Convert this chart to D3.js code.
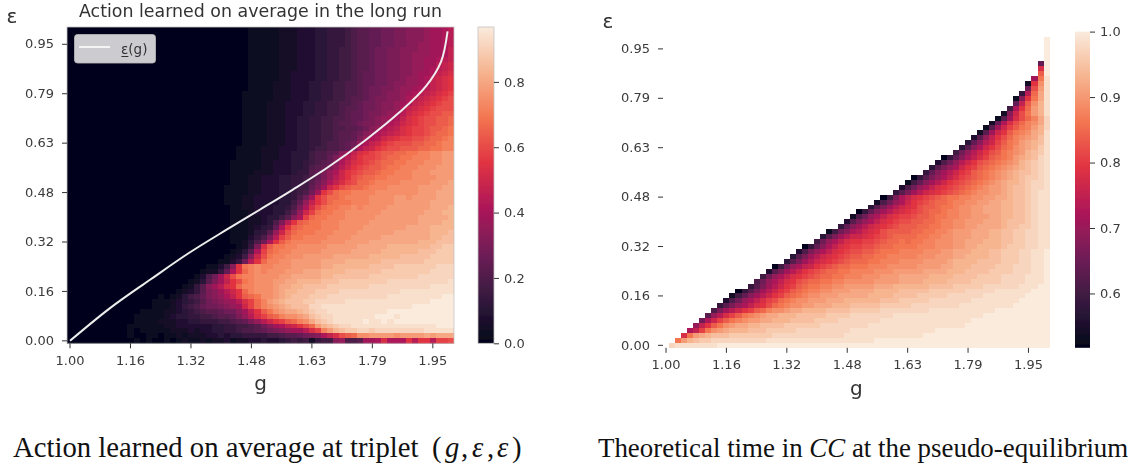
<!DOCTYPE html>
<html>
<head>
<meta charset="utf-8">
<script src="https://cdn.jsdelivr.net/npm/d3@7"></script>
<style>
html, body { margin: 0; padding: 0; background: #fff; }
svg { display: block; }
text { font-family: "DejaVu Sans", sans-serif; fill: #333; }
.tick text { font-size: 13px; fill: #3b3b3b; }
.tick line { stroke: #333; }
.caption tspan { font-family: "Liberation Serif", serif; fill: #111; }
</style>
</head>
<body>
<div id="container-svg"></div>
<script>
// ************************* VALUES *************************
var g_labels = ["1.00", "1.16", "1.32", "1.48", "1.63", "1.79", "1.95"];
var g_tick_cols = [0, 10, 20, 30, 40, 50, 60];
var eps_labels = ["0.95", "0.79", "0.63", "0.48", "0.32", "0.16", "0.00"];
var eps_tick_rows = [3, 13, 23, 33, 43, 53, 63];

var left_bar_ticks = [0, 0.2, 0.4, 0.6, 0.8];
var right_bar_ticks = [0.6, 0.7, 0.8, 0.9, 1.0];
var left_range = [0, 0.968];
var right_range = [0.517, 1];

// the white curve
var curve_g = [1.000, 1.105, 1.210, 1.312, 1.411, 1.498, 1.584, 1.675, 1.777, 1.864, 1.934, 1.974, 1.991];
var curve_eps = [0.000, 0.105, 0.196, 0.282, 0.357, 0.421, 0.485, 0.556, 0.646, 0.733, 0.817, 0.897, 0.994];

// one char per cell, base 36 level (0 = range low, z = range high), "." = no cell
// first row is the top one, groups of 8 columns
var action_rows = [
"00000000 00000000 00000000 00000011 11122233 34455567 8899aabb cccdeefg",
"00000000 00000000 00000000 00000011 11122233 34455567 8899aabb cccdeefg",
"00000000 00000000 00000000 00000011 11122233 34455567 8899aabb cccdeefg",
"00000000 00000000 00000000 00000011 11122233 34455567 8899aabb ccddeefg",
"00000000 00000000 00000000 00000011 11122233 34455667 889aabbc ccddeefh",
"00000000 00000000 00000000 00000011 11122233 34455667 889aabbc cdddeefh",
"00000000 00000000 00000000 00000011 11122233 34455667 889aabbc cddeefgh",
"00000000 00000000 00000000 00000011 11122233 34455667 889aabbc cddeeghi",
"00000000 00000000 00000000 00000011 11122233 34455667 889aabbc cddefghi",
"00000000 00000000 00000000 00000011 11122333 34455667 899aabbc cdeefhij",
"00000000 00000000 00000000 00000011 11122333 34455667 899aabbc ddefhijk",
"00000000 00000000 00000000 00000011 11222333 44556677 899aabcc ddefhijk",
"00000000 00000000 00000000 00000011 11222333 44556677 89aabbcd defghijk",
"00000000 00000000 00000000 00000111 11222333 44556677 89aabccd efghijkl",
"00000000 00000000 00000000 00000111 11222333 44556678 89abbccd fghijklm",
"00000000 00000000 00000000 00000111 12223334 45566778 9aabccde fhijklmm",
"00000000 00000000 00000000 00000111 12223334 45566788 9aabccdf hijklmmm",
"00000000 00000000 00000000 00000111 12223334 45566789 9abbcdeg ijklmmnn",
"00000000 00000000 00000000 00000111 12223344 55667789 9abcdefh jklmmnno",
"00000000 00000000 00000000 00000111 12223344 55667889 abbcdfgi jklmmnno",
"00000000 00000000 00000000 00000111 12223344 55667788 9acdfghj kllmnnop",
"00000000 00000000 00000000 00000111 12223344 55667889 acdfghij kllmnoop",
"00000000 00000000 00000000 00000111 12223344 55667889 bdfgijkl lmmnoopq",
"00000000 00000000 00000000 00000111 12223344 5567789a dfhiklmm mnnoopqq",
"00000000 00000000 00000000 00001111 22233344 5667789b fhiklmmn nnooppqq",
"00000000 00000000 00000000 00001111 22233444 67789ceh jklmnnoo ppqqrrss",
"00000000 00000000 00000000 00001111 22233444 6779begi kllmnoop pqqqrrss",
"00000000 00000000 00000000 00011111 22333445 6789cfhj klmnoopp qqqrrrss",
"00000000 00000000 00000000 00011111 22333445 789bdgik lmnnoppq qqrrrsss",
"00000000 00000000 00000000 00011112 22333455 89bdfikl mnnoppqq qrrrssss",
"00000000 00000000 00000000 00011122 33344556 79bdgikm nooppqqq qrrrrsss",
"00000000 00000000 00000000 00011122 33344556 8acfhjlm oopqqqqr rrrrssst",
"00000000 00000000 00000000 00111122 33344566 9beikmno opqqqrrr rrsssstt",
"00000000 00000000 00000000 00111122 33344567 aekmoppq qqqrrrrr rrsssttt",
"00000000 00000000 00000000 00111223 3334457a ekmoopqq qqrrrrss rssssttt",
"00000000 00000000 00000000 00111223 3334469d hkmopppq qqrrrrss sssstttt",
"00000000 00000000 00000000 00011223 334457bf jmoppqqr qrrrrsss sssstttu",
"00000000 00000000 00000000 00011123 334469di loppqqrr rrrrssss ssstttuu",
"00000000 00000000 00000000 00011122 34468cfl oppqqqrr rrrsssss sstttttu",
"00000000 00000000 00000000 00011122 347bgkno ppqqqrrr rrssssss ssttttuu",
"00000000 00000000 00000000 00011123 459fknop ppqqqrrr rsssssss ttttuuuu",
"00000000 00000000 00000000 00011124 58dimopp pqqqrrrr sssssstt ttttuuuv",
"00000000 00000000 00000000 00011135 7bglnppq qqqrrrrs sssstttt ttttuuvv",
"00000000 00000000 00000000 00011247 afknpqqq qqrrrrss sstttttt ttuuuvvv",
"00000000 00000000 00000000 0000125b jnppqqrr rrrsssss tttttuuu uuuuvvww",
"00000000 00000000 00000000 0001248f lopqqrrr rrssssst ttttuuuu uuvvvwww",
"00000000 00000000 00000000 001236ci mpqqrrrs sssstttt ttuuuuuv vvvvwwww",
"00000000 00000000 00000000 01135agk oqqrrsss ssttttuu uuuuvvvv vvvwwwww",
"00000000 00000000 00000001 136ckpqr qqrrrsss ssttuuuu uuvvvvww wwwwwxxx",
"00000000 00000000 00000012 259fkoqr qrrrssst ttuuuuvv vvvvwwww wwwwxxxx",
"00000000 00000000 00000137 aeimpqqr rrrssttt ttuuvvvv vvwwwwww wwxxxxxx",
"00000000 00000000 00001248 behkmpqr rrssttuu uuvvvwww wwwwwxxx xxxxxxxy",
"00000000 00000000 0001258c egjkoqqr rrsttuuv vvvwwwww wwxxxxxx xxxxyyyy",
"00000000 00000000 0012358b cegikoqr rrstuuvv vwwwwxxx xxxxxxxy yyyyyyyy",
"00000000 00000001 0124679b cdfhknop rrstuvvv wwwxxxxx xxxxxyyy yyyyyyzz",
"00000000 00000011 1234568a bcdegjlo qstuvvvw wxxxxxyy yyyyyyyy yyyyzzzz",
"00000000 00000011 1235679a abcdeilo qrstuvvv xxyyyyyy yyyyyyyy yzzzzzzz",
"00000000 00001111 22345678 89aacehk nprsttuv wxxyyyyy yyyyyzzz zzzzzzzz",
"00000000 00011111 23445566 7889bdgj lnoqrrst vwxxyyyy yyyzzzyz zzzzzzzz",
"00000000 00011112 22334455 566789bd giklnoqr tvwxyyyy yzyyzyzz zzzzzzzz",
"00000000 00111111 22333333 44556678 acefhikm osuvwxxy yyyyyyyy yyyyyzzz",
"00000000 00101111 12223233 44556778 9abcdeeg jlqsuvww xxwxxxxx xxxyyyyy",
"00000000 00100110 11212223 34344555 5667889a bcfhjmno rrssssrs ssststtt",
"00000000 00010100 10121121 22312233 43345656 2566cd77 8eefjfff kgkkgllm"
];

var cc_rows = [
"........ ........ ........ ........ ........ ........ ........ ........",
"........ ........ ........ ........ ........ ........ ........ .......z",
"........ ........ ........ ........ ........ ........ ........ .......z",
"........ ........ ........ ........ ........ ........ ........ .......z",
"........ ........ ........ ........ ........ ........ ........ .......z",
"........ ........ ........ ........ ........ ........ ........ .......z",
"........ ........ ........ ........ ........ ........ ........ ......9z",
"........ ........ ........ ........ ........ ........ ........ ......jz",
"........ ........ ........ ........ ........ ........ ........ ......nz",
"........ ........ ........ ........ ........ ........ ........ .....epy",
"........ ........ ........ ........ ........ ........ ........ ....2kry",
"........ ........ ........ ........ ........ ........ ........ ....amsy",
"........ ........ ........ ........ ........ ........ ........ ...5goty",
"........ ........ ........ ........ ........ ........ ........ ..1ckpty",
"........ ........ ........ ........ ........ ........ ........ ..9hnruy",
"........ ........ ........ ........ ........ ........ ........ .6fkosuy",
"........ ........ ........ ........ ........ ........ ........ 2cimpsuy",
"........ ........ ........ ........ ........ ........ .......1 8ejmoqtx",
"........ ........ ........ ........ ........ ........ ......29 fjmoqrtx",
"........ ........ ........ ........ ........ ........ .....18e ilnpqsux",
"........ ........ ........ ........ ........ ........ ....28ei knpqrtuy",
"........ ........ ........ ........ ........ ........ ...38dhk moqrstvy",
"........ ........ ........ ........ ........ ........ ..49cgil npqstuvy",
"........ ........ ........ ........ ........ ........ .48cfikm oprstuwy",
"........ ........ ........ ........ ........ ........ 6adgikmn pqrsuvwy",
"........ ........ ........ ........ ........ ......05 9cfhjlno pqstuvxy",
"........ ........ ........ ........ ........ .....37a dgikmnop qrsuvwxy",
"........ ........ ........ ........ ........ ....48bd fiklnopq rstuvwxy",
"........ ........ ........ ........ ........ ...59ceg iklnopqr stuvvwxy",
"........ ........ ........ ........ ........ .058bdfh jlmnopqr stuvwwxy",
"........ ........ ........ ........ ........ 169cegik lmnopqrs tuuvwxxy",
"........ ........ ........ ........ .......3 7adfhjkl mnopqrss tuvvwxxy",
"........ ........ ........ ........ ......58 begijklm nopqrrss tuvvwxyy",
"........ ........ ........ ........ ....06bf hjklmnop pqqrrsst tuvvwxyy",
"........ ........ ........ ........ ...27adf iklmnoop qqrrsstt uuvvwxyy",
"........ ........ ........ ........ ..48begi jkmnnopp qrrssttt uuvvwxyy",
"........ ........ ........ ........ 059cegij klmnoopq qrrssttt uuvvwxyy",
"........ ........ ........ .......2 7adfhjkl lmnnoppq qrrssstt uuvvwxyy",
"........ ........ ........ ......38 bdfhjklm mnnoopqq rrsssttt uvvvwxyy",
"........ ........ ........ .....59c egijklmn nnooppqq rrsstttt uvvwwxyy",
"........ ........ ........ ...16acf gijkmnnn nooppqqr ssstttuu vvwwxxyy",
"........ ........ ........ ..48begi ijklmnoo ooppqqrr ssstttuu vvwwxxyy",
"........ ........ ........ .6adfhjk kllmnoop oppqqrrr sstttuuu vvwwxxyy",
"........ ........ .......0 59cfhjkl lmmnoopp ppqqqrrr ssttuuuu vwwwxxyy",
"........ ........ ......37 bdfhjklm mnnopppq qqqrrrss tttuuuvv wwwxxyyz",
"........ ........ .....48b egijklmn nooppqqq qqrrrsss ttuuuuvv wwwxxyyz",
"........ ........ ....48be gijklmno ooppqqqr rrrsssst uuuuvvvv wwwxxyyz",
"........ ........ ..06adfh iklmnoop ppqqqrrr rrsssstt uuuvvvvw wwxxxyyz",
"........ ........ .38begik lmnooppq qqqrrrss sssttttu uuvvvvww wwxxxyyz",
"........ ........ 6adfhjkl mnooppqq qrrrssst ttttuuuu vvvvwwww xxxxyyyz",
"........ .......7 adfhjkmn ooppqqrr rrrsssst tttuuuuv vvvwwwww xxxxyyyz",
"........ ......58 begiklno ppqqrrss ssstttuu uuuuvvvv wwwwwxxx xxxyyyzz",
"........ ....058b egiklnop qqrrssst tttuuuuv vvvvwwww wwxxxxxy yyyyyzzz",
"........ ...269ce giklnopq rrsssttt ttuuuuvv vvwwwwwx xxxxxyyy yyyyzzzz",
"........ ..37adfh jlmopqrr ssstttuu uuuuvvvw wwwwxxxx xxxyyyyy yyyzzzzz",
"........ .58bdfhj kmopqrrs stttuuuv vvvvwwww wxxxxxxx xyyyyyyy yyzzzzzz",
"........ 7begikln oqrrsttu uuuvvvvw wwwwxxxx xxxxyyyy yyyyyyyz zzzzzzzz",
".......8 dgjlnpqr sttuuuvv vvvwwwwx xxxxxxyy yyyyyyyy yyyyyzzz zzzzzzzz",
"......af ilnpqrss ttuuuvvv vwwwwxxx xxxxyyyy yyyyyyyy yyyzzzzz zzzzzzzz",
".....dhk nprsttuu vvvvwwww wwxxxxxx xxyyyyyy yyyyyyyy yyzzzzzz zzzzzzzz",
"....fhlp rstuuuvv vwwwwwxx xxxxxxxy yyyyyyyy yyyyyzzz zzzzzzzz zzzzzzzz",
"...jpstu vvvwwwww wwxxxxxx xxxxxxyy yyyyyyyy yyyzzzzz zzzzzzzz zzzzzzzz",
"..psuvww xxxxxxxx xyyyyyyy yyyyyyyy yyyzzzzz zzzzzzzz zzzzzzzz zzzzzzzz",
".xyyyyyy yzzzzzzz zzzzzzzz zzzzzzzz zzzzzzzz zzzzzzzz zzzzzzzz zzzzzzzz"
];

// ********************************* COLOR MAP *********************************
var rocket_stops = ["#03051a", "#35193e", "#701f57", "#ad1759", "#e13342", "#f37651", "#f6b48f", "#faebdd"];
var rocket = d3.scaleLinear()
    .domain(d3.range(rocket_stops.length).map(function(i) { return i / (rocket_stops.length - 1); }))
    .range(rocket_stops)
    .interpolate(d3.interpolateRgb);

function parse_rows(rows, range) {
    var cells = [];
    rows.forEach(function(row, r) {
        row.replace(/ /g, "").split("").forEach(function(ch, c) {
            if (ch === ".") return;
            cells.push({r: r, c: c, v: range[0] + (range[1] - range[0]) * parseInt(ch, 36) / 35});
        });
    });
    return cells;
}

// ******************************* SVG *******************************
var svg = d3.select("#container-svg").append("svg")
    .attr("width", 1132)
    .attr("height", 468);

var defs = svg.append("defs");
defs.append("filter")
    .attr("id", "soft")
    .attr("x", "-2%").attr("y", "-2%").attr("width", "104%").attr("height", "104%")
    .append("feGaussianBlur").attr("stdDeviation", 0.45);

var grad = defs.append("linearGradient")
    .attr("id", "rocketGrad")
    .attr("x1", "0%").attr("x2", "0%").attr("y1", "100%").attr("y2", "0%");
rocket_stops.forEach(function(col, i) {
    grad.append("stop")
        .attr("offset", (100 * i / (rocket_stops.length - 1)) + "%")
        .attr("stop-color", col);
});

var root = svg.append("g").attr("filter", "url(#soft)");

// ****************************** ONE PANEL ******************************
function draw_panel(opt) {
    var n = d3.range(64);
    var scale_x = d3.scaleBand().domain(n).range([opt.x0, opt.x1]);
    var scale_y = d3.scaleBand().domain(n).range([opt.y0, opt.y1]);
    var panel = root.append("g");

    panel.selectAll("rect.cell")
        .data(parse_rows(opt.rows, opt.range))
        .enter()
        .append("rect")
        .attr("class", "cell")
        .attr("x", function(d) { return scale_x(d.c); })
        .attr("y", function(d) { return scale_y(d.r); })
        .attr("width", scale_x.bandwidth() + 0.4)
        .attr("height", scale_y.bandwidth() + 0.4)
        .attr("shape-rendering", "crispEdges")
        .attr("fill", function(d) { return rocket((d.v - opt.range[0]) / (opt.range[1] - opt.range[0])); });

    if (opt.border) {
        panel.append("rect")
            .attr("x", opt.x0).attr("y", opt.y0)
            .attr("width", opt.x1 - opt.x0).attr("height", opt.y1 - opt.y0)
            .attr("fill", "none").attr("stroke", "#c4c4c4").attr("stroke-width", 0.8);
    }

    var axis_x = d3.axisBottom(scale_x)
        .tickValues(g_tick_cols)
        .tickFormat(function(d, i) { return g_labels[i]; })
        .tickSize(5).tickPadding(7);
    var axis_y = d3.axisLeft(scale_y)
        .tickValues(eps_tick_rows)
        .tickFormat(function(d, i) { return eps_labels[i]; })
        .tickSize(5).tickPadding(8);

    var gx = panel.append("g").attr("transform", "translate(0," + opt.y1 + ")").call(axis_x);
    gx.select(".domain").remove();
    var gy = panel.append("g").attr("transform", "translate(" + opt.x0 + ",0)").call(axis_y);
    gy.select(".domain").remove();

    panel.append("text")
        .attr("x", (opt.x0 + opt.x1) / 2).attr("y", opt.y1 + 47)
        .attr("text-anchor", "middle").style("font-size", "20px").text("g");
    panel.append("text")
        .attr("x", opt.x0 - 55).attr("y", opt.y0 - 4)
        .attr("text-anchor", "middle").style("font-size", "20px").text("ε");

    // ----------- colorbar -----------
    var scale_bar = d3.scaleLinear().domain(opt.range).range([opt.y1, opt.y0]);
    panel.append("rect")
        .attr("x", opt.bar_x).attr("y", opt.y0)
        .attr("width", opt.bar_w).attr("height", opt.y1 - opt.y0)
        .attr("fill", "url(#rocketGrad)")
        .attr("stroke", opt.border ? "#c4c4c4" : "none").attr("stroke-width", 0.8);
    var bar_axis = d3.axisRight(scale_bar)
        .tickValues(opt.bar_ticks)
        .tickFormat(d3.format(".1f"))
        .tickSize(5).tickPadding(5);
    var gb = panel.append("g")
        .attr("transform", "translate(" + (opt.bar_x + opt.bar_w) + ",0)")
        .call(bar_axis);
    gb.select(".domain").remove();

    return {scale_x: scale_x, scale_y: scale_y, panel: panel};
}

var left = draw_panel({
    rows: action_rows, range: left_range, border: true,
    x0: 67, x1: 454, y0: 27, y1: 343.3,
    bar_x: 478, bar_w: 16, bar_ticks: left_bar_ticks
});

var right = draw_panel({
    rows: cc_rows, range: right_range, border: false,
    x0: 663, x1: 1049.6, y0: 31.6, y1: 347.8,
    bar_x: 1075, bar_w: 15, bar_ticks: right_bar_ticks
});

// **************************** CURVE + LEGEND ****************************
var half_x = left.scale_x.bandwidth() / 2,
    half_y = left.scale_y.bandwidth() / 2;
var curve_x = d3.scaleLinear().domain([1, 2]).range([left.scale_x(0) + half_x, left.scale_x(63) + half_x]);
var curve_y = d3.scaleLinear().domain([0, 1]).range([left.scale_y(63) + half_y, left.scale_y(0) + half_y]);

left.panel.append("path")
    .datum(d3.range(curve_g.length))
    .attr("fill", "none")
    .attr("stroke", "#eeeeee")
    .attr("stroke-width", 2)
    .attr("d", d3.line()
        .x(function(i) { return curve_x(curve_g[i]); })
        .y(function(i) { return curve_y(curve_eps[i]); })
        .curve(d3.curveCatmullRom));

left.panel.append("rect")
    .attr("x", 74.5).attr("y", 34.5).attr("width", 81).attr("height", 28.5).attr("rx", 3)
    .attr("fill", "#cbcbd0").attr("stroke", "#b9b9bd").attr("stroke-width", 0.8);
left.panel.append("line")
    .attr("x1", 79).attr("x2", 110).attr("y1", 47).attr("y2", 47)
    .attr("stroke", "#f4f4f4").attr("stroke-width", 2);
left.panel.append("text")
    .attr("x", 121).attr("y", 54).style("font-size", "13.5px").text("ε\u0332(g)");

root.append("text")
    .attr("x", 260.5).attr("y", 17)
    .attr("text-anchor", "middle").style("font-size", "17.4px")
    .text("Action learned on average in the long run");

// ****************************** CAPTIONS ******************************
var cap1 = svg.append("text").attr("class", "caption").attr("x", 13).attr("y", 457).style("font-size", "28.7px");
cap1.append("tspan").text("Action learned on average at triplet");
var math_parts = [
    {t: "(", x: 432, it: false}, {t: "g", x: 445, it: true}, {t: ",", x: 461, it: false},
    {t: "ε", x: 472, it: true}, {t: ",", x: 487, it: false}, {t: "ε", x: 497, it: true}, {t: ")", x: 512, it: false}
];
math_parts.forEach(function(p) {
    cap1.append("tspan")
        .attr("x", p.x)
        .style("font-style", p.it ? "italic" : "normal")
        .text(p.t);
});

var cap2 = svg.append("text").attr("class", "caption").attr("x", 598).attr("y", 457).style("font-size", "26.9px");
cap2.append("tspan").text("Theoretical time in ");
cap2.append("tspan").style("font-style", "italic").text("CC");
cap2.append("tspan").text(" at the pseudo-equilibrium");
</script>
</body>
</html>
